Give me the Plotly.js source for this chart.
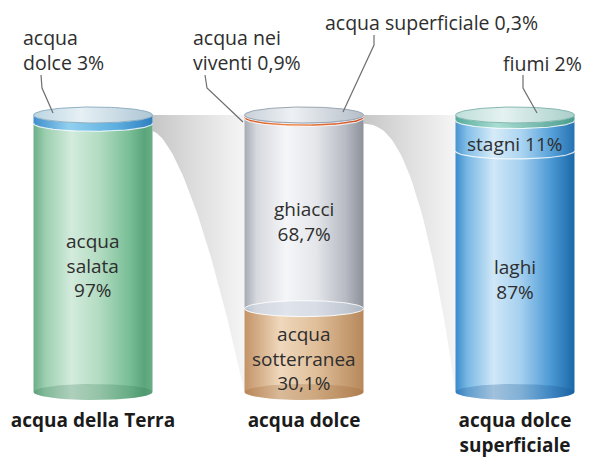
<!DOCTYPE html>
<html><head><meta charset="utf-8">
<script src="https://cdn.plot.ly/plotly-3.0.1.min.js"></script>
<style>html,body{margin:0;padding:0;background:#fff}#chart{width:590px;height:458px}</style>
</head><body><div id="chart"></div>
<script>
// ---------------- data ----------------
const categories = ['acqua della Terra', 'acqua dolce', 'acqua dolce<br>superficiale'];
const terraLabels = ['acqua<br>salata', 'acqua<br>dolce'];
const terraValues = [97, 3];
const dolceLabels = ['acqua<br>sotterranea', 'ghiacci', 'acqua nei<br>viventi', 'acqua superficiale'];
const dolceValues = [30.1, 68.7, 0.9, 0.3];
const superficieLabels = ['laghi', 'stagni', 'fiumi'];
const superficieValues = [87, 11, 2];

// ---------------- styles ----------------
const W = 590, H = 458, PLOT_H = 407;
const X_RANGE = [-0.4408, 2.3555];
const Y_RANGE = [-5.415, 141.516];
const HALF_W = 0.282;
const RY_PX = 8;
const pxPerY = PLOT_H / (Y_RANGE[1] - Y_RANGE[0]);
const RY = RY_PX / pxPerY;
const FONT = 'Open Sans';
const TXT = '#2e2e2e';

const cylStyles = [
  { // acqua della Terra
    seg: [
      [[0,'#6cae87'],[0.1,'#9ccfb0'],[0.32,'#d3ebdc'],[0.55,'#b3dcc2'],[0.8,'#7abf97'],[0.93,'#5aa57c'],[1,'#6aae88']],
      [[0,'#3f8fcd'],[0.3,'#92d0f0'],[0.7,'#5caee0'],[1,'#2f7fc0']]
    ],
    cap: [[0,'#bcd5e2'],[0.4,'#e6f0f5'],[1,'#aec6d4']], rim: '#8fb0c4',
    bottom: 'rgba(40,110,75,0.22)'
  },
  { // acqua dolce
    seg: [
      [[0,'#c39367'],[0.3,'#efd8bc'],[0.6,'#e0bf9a'],[1,'#b7885b']],
      [[0,'#a6abb3'],[0.1,'#d5d8dd'],[0.35,'#f5f6f8'],[0.6,'#e4e6ea'],[0.85,'#b6bac2'],[1,'#8c919a']],
      [[0,'#d4531d'],[0.4,'#f0894a'],[1,'#c6461a']],
      [[0,'#4d86c0'],[0.5,'#7fb0dc'],[1,'#4479b3']]
    ],
    cap: [[0,'#c8d0d9'],[0.4,'#eef1f4'],[1,'#b5bec8']], rim: '#9aa6b3',
    bottom: 'rgba(150,95,45,0.25)'
  },
  { // acqua dolce superficiale
    seg: [
      [[0,'#3a8acb'],[0.1,'#78b8e4'],[0.32,'#d0e7f7'],[0.55,'#a4d0ef'],[0.8,'#4c99d5'],[1,'#1b68a9']],
      [[0,'#4892cf'],[0.1,'#84c0e8'],[0.32,'#d6ebf8'],[0.55,'#acd5f1'],[0.8,'#58a2da'],[1,'#2672b1']],
      [[0,'#55ab9c'],[0.35,'#a9ddd3'],[1,'#4a9d8e']]
    ],
    cap: [[0,'#bfdeda'],[0.4,'#e4f2f0'],[1,'#aacfca']], rim: '#86b8b0',
    bottom: 'rgba(20,80,140,0.25)'
  }
];
const wedgeStyles = [
  {pow: 1.6, scale: [[0,'#c6c6c6'],[0.5,'#dfdfdf'],[1,'#f5f5f5']]},
  {pow: 2.4, scale: [[0,'#c6c6c6'],[0.5,'#dfdfdf'],[1,'#f5f5f5']]}
];
// callout text placement & leader polylines (pixels), in order of small segments
const calloutStyles = [
  {x: 21, y: 50, path: [[41,75],[42,88],[53,113]]},
  {x: 191, y: 50, path: [[205,75],[207,88],[243,122]]},
  {x: 323, y: 23, path: [[374,35],[374,45],[343,112]]},
  {x: 501, y: 63, path: [[523,75],[523,88],[537,113]]}
];
const INSIDE_SIZE = 19, CALLOUT_SIZE = 19.5, TICK_SIZE = 19;

// ---------------- build ----------------
const cylinders = [
  {labels: terraLabels, values: terraValues},
  {labels: dolceLabels, values: dolceValues},
  {labels: superficieLabels, values: superficieValues}
];
const pct = v => String(v).replace('.', ',') + '%';
const N = 60;
function lowerArc(cx, level, rev) {
  const xs = [], ys = [];
  for (let k = 0; k <= N; k++) {
    const t = Math.PI + Math.PI * k / N;
    xs.push(cx + HALF_W * Math.cos(t));
    ys.push(level + RY * Math.sin(t));
  }
  if (rev) { xs.reverse(); ys.reverse(); }
  return [xs, ys];
}
function ellipse(cx, level) {
  const xs = [], ys = [];
  for (let k = 0; k <= 2 * N; k++) {
    const t = 2 * Math.PI * k / (2 * N);
    xs.push(cx + HALF_W * Math.cos(t));
    ys.push(level + RY * Math.sin(t));
  }
  return [xs, ys];
}
const base = {type: 'scatter', mode: 'lines', hoverinfo: 'skip', showlegend: false};
const traces = [];
const annotations = [];
const shapes = [];

// wedges (zoom connectors)
for (let w = 0; w < 2; w++) {
  const src = cylinders[w];
  const total = src.values.reduce((a, b) => a + b, 0);
  const topVal = src.values[src.values.length - 1];
  const x0 = w + HALF_W, x1 = w + 1 - HALF_W;
  const startY = total - topVal - RY;
  const xs = [x0, x1], ys = [total, total];
  for (let k = 0; k <= 40; k++) {
    const t = 1 - k / 40;
    xs.push(x0 + (x1 - x0) * t);
    ys.push(startY * (1 - Math.pow(t, wedgeStyles[w].pow)));
  }
  traces.push(Object.assign({}, base, {x: xs, y: ys, fill: 'toself', line: {width: 0},
    fillgradient: {type: 'horizontal', colorscale: wedgeStyles[w].scale}}));
}

let callIdx = 0;
cylinders.forEach((cyl, i) => {
  const st = cylStyles[i];
  let acc = 0;
  const bounds = [];
  cyl.values.forEach((v, j) => {
    const a = acc, b = acc + v;
    acc = b;
    const top = lowerArc(i, b, false);
    const bot = lowerArc(i, a, true);
    traces.push(Object.assign({}, base, {
      x: top[0].concat(bot[0]), y: top[1].concat(bot[1]),
      fill: 'toself', line: {width: 0},
      fillgradient: {type: 'horizontal', colorscale: st.seg[j]}
    }));
    if (j > 0) bounds.push({level: a, above: v});
    if (v >= 5) {
      annotations.push({xref: 'x', yref: 'y', x: i, y: (a + b) / 2, yshift: -RY_PX,
        text: cyl.labels[j] + (v >= 20 ? '<br>' : ' ') + pct(v), showarrow: false,
        font: {family: FONT, size: INSIDE_SIZE, color: TXT}});
    } else {
      const cs = calloutStyles[callIdx++];
      annotations.push({xref: 'paper', yref: 'paper', x: cs.x / W, y: 1 - cs.y / PLOT_H,
        xanchor: 'left', yanchor: 'middle', align: 'left', showarrow: false,
        text: cyl.labels[j] + ' ' + pct(v), font: {family: FONT, size: CALLOUT_SIZE, color: TXT}});
      shapes.push({type: 'path', xref: 'paper', yref: 'paper',
        path: cs.path.map((p, k) => (k ? 'L' : 'M') + (p[0] / W) + ',' + (1 - p[1] / PLOT_H)).join(' '),
        line: {color: '#6e6e6e', width: 1.2}});
    }
  });
  // internal boundaries
  bounds.forEach(bd => {
    if (bd.above >= 20) {
      const e = ellipse(i, bd.level);
      traces.push(Object.assign({}, base, {x: e[0], y: e[1], fill: 'toself',
        fillcolor: 'rgba(205,214,225,0.55)', line: {color: 'rgba(255,255,255,0.85)', width: 1}}));
    } else {
      const arc = lowerArc(i, bd.level, false);
      traces.push(Object.assign({}, base, {x: arc[0], y: arc[1],
        line: {color: 'rgba(255,255,255,0.75)', width: 1.2}}));
    }
  });
  // bottom shading
  const eb = ellipse(i, 0);
  traces.push(Object.assign({}, base, {x: eb[0], y: eb[1], fill: 'toself',
    fillcolor: st.bottom, line: {width: 0}}));
  // cap
  const ec = ellipse(i, acc);
  traces.push(Object.assign({}, base, {x: ec[0], y: ec[1], fill: 'toself',
    fillgradient: {type: 'horizontal', colorscale: st.cap}, line: {color: st.rim, width: 1}}));
});

const layout = {
  width: W, height: H,
  margin: {l: 0, r: 0, t: 0, b: H - PLOT_H},
  paper_bgcolor: '#ffffff', plot_bgcolor: '#ffffff',
  xaxis: {range: X_RANGE, tickvals: [0, 1, 2], ticktext: categories, ticks: '',
    showgrid: false, zeroline: false, showline: false, fixedrange: true,
    ticklabelstandoff: 0,
    tickfont: {family: FONT, size: TICK_SIZE, weight: 'bold', color: '#1b1b1b'}},
  yaxis: {range: Y_RANGE, showgrid: false, zeroline: false, showline: false,
    showticklabels: false, ticks: '', fixedrange: true},
  annotations: annotations,
  shapes: shapes,
  showlegend: false
};
Plotly.newPlot('chart', traces, layout, {displayModeBar: false, staticPlot: true});
</script>
</body></html>
